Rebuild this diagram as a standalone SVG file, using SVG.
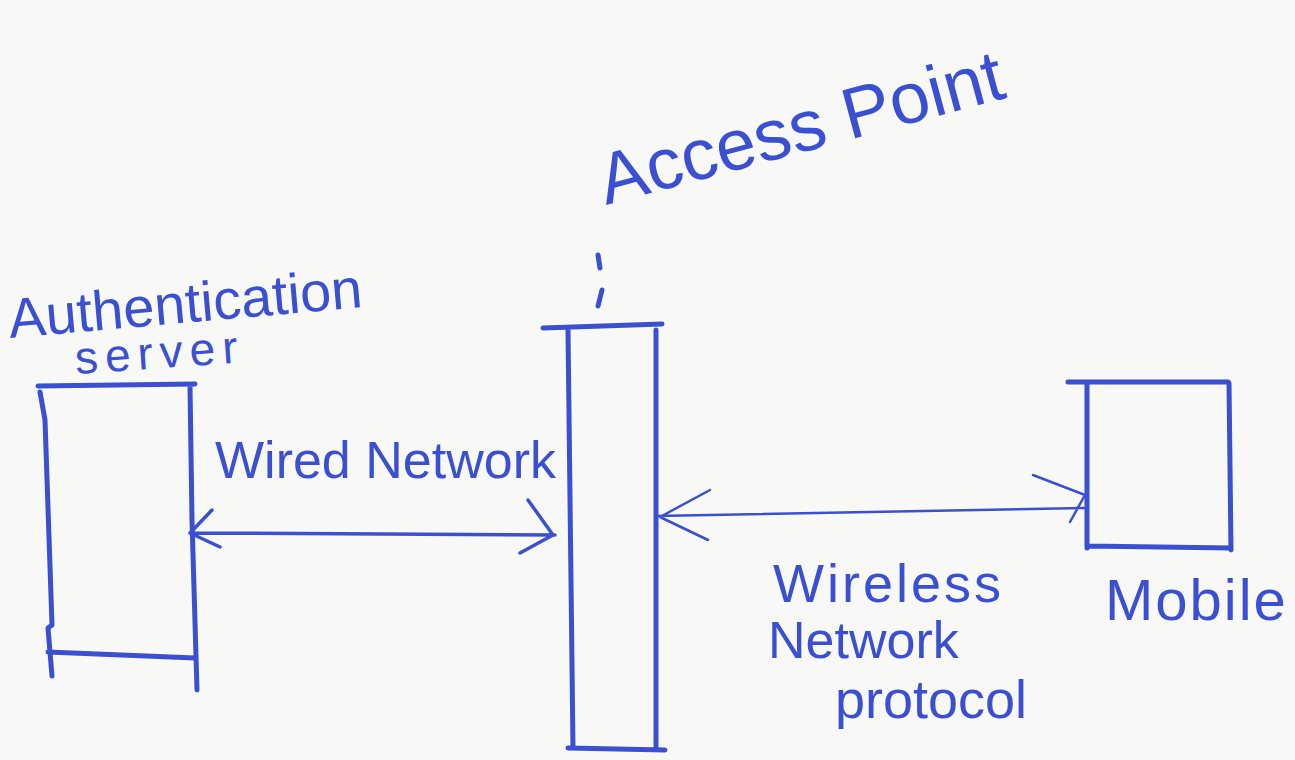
<svg xmlns="http://www.w3.org/2000/svg" width="1295" height="760" viewBox="0 0 1295 760">
<defs>
<style>
.ink{fill:none;stroke:#3a4fd2;stroke-linecap:round;stroke-linejoin:round}
.box{stroke-width:5}
.arr{stroke-width:3.5}
.thin{stroke-width:2.5}
.t{fill:#3a4fd2;font-family:"Liberation Sans","DejaVu Sans",sans-serif}
</style>
</defs>
<rect width="1295" height="760" fill="#f8f9f7"/>
<g id="access-point-label">
<text class="t" x="0" y="0" font-size="72" transform="translate(606,205) rotate(-15)">Access Point</text>
</g>
<g id="auth-server">
<path class="ink box" d="M38,386 L195,384 M40,392 L45,420 L52,625 L48,628 L52,676 M48,652 L195,658 M190,386 L192,520 L197,690"/>
<text class="t" font-size="56" transform="translate(10,338) rotate(-5)">Authentication</text>
<text class="t" font-size="46" letter-spacing="7" transform="translate(76,374) rotate(-4)">server</text>
</g>
<g id="access-point">
<path class="ink box" d="M598,255 L600,268 M602,290 L598,306 M543,328 L662,324 M568,330 L573,748 M656,330 L656,750 M568,748 L665,750"/>
</g>
<g id="mobile">
<path class="ink box" d="M1068,382 L1228,382 M1087,383 L1087,548 M1229,383 L1231,550 M1087,546 L1231,548"/>
<text class="t" x="1105" y="620" font-size="58" letter-spacing="2">Mobile</text>
</g>
<g id="connectors">
<path class="ink arr" d="M192,533 L555,535 M212,510 L190,533 L220,547 M528,500 L553,535 L520,553"/>
<path class="ink thin" d="M655,516 L1085,508 M710,490 L660,517 L708,540 M1033,475 L1085,495 M1085,495 L1070,522"/>
<text class="t" x="215" y="478" font-size="52">Wired Network</text>
<text class="t" x="773" y="602" font-size="54" letter-spacing="3">Wireless</text>
<text class="t" x="768" y="658" font-size="52">Network</text>
<text class="t" x="835" y="718" font-size="54">protocol</text>
</g>
</svg>
